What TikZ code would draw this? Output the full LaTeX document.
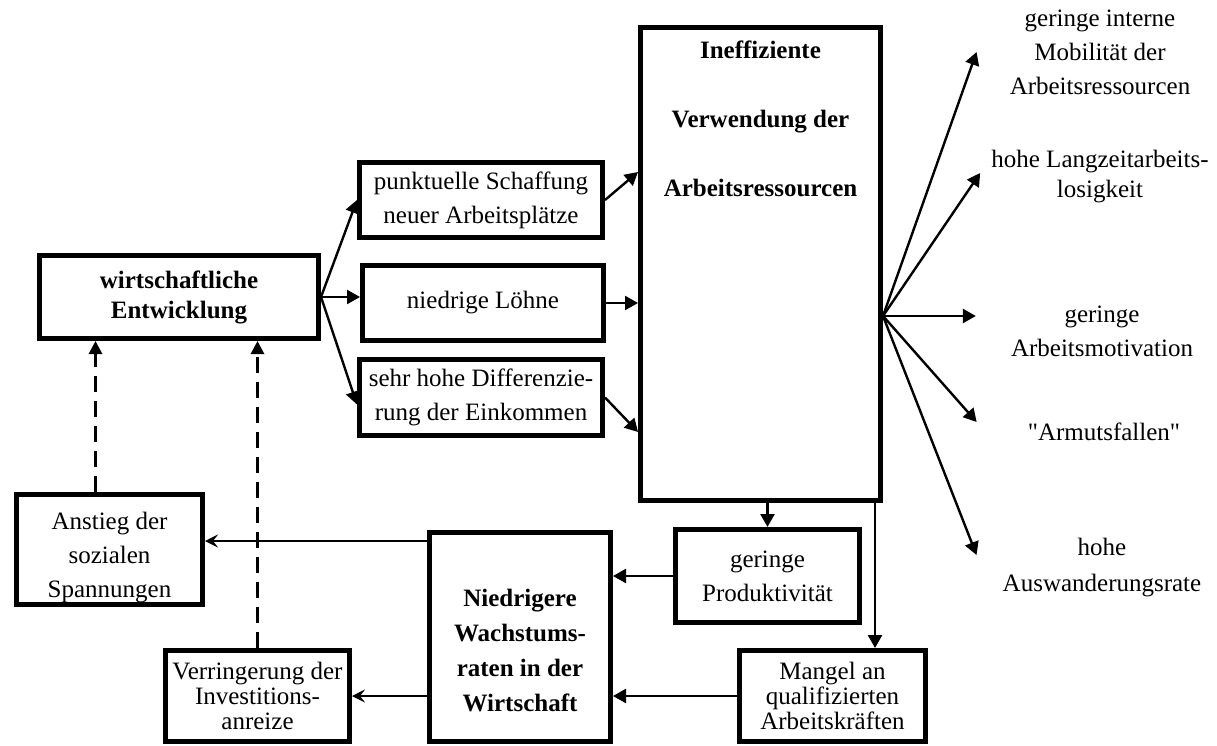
\documentclass[tikz,border=0pt]{standalone}
\usepackage{fontspec}
\setmainfont{Liberation Serif}
\newfontfamily\plainserif{Liberation Serif}
\usetikzlibrary{positioning, arrows.meta}

\begin{document}
\begin{tikzpicture}[x=1pt, y=-1pt, font=\fontsize{25}{34}\selectfont,
	box/.style={draw, line width=5pt, align=center, inner sep=0pt},
	lbl/.style={align=center, inner sep=0pt},
	arr/.style={line width=2.4pt, -{Triangle[length=13pt,width=14pt]}},
	arrb/.style={line width=2.4pt, -{Stealth[length=13pt,width=13pt,inset=5pt]}},
	dasharr/.style={line width=2.8pt, dash pattern=on 16pt off 9pt, -{Triangle[length=13pt,width=13pt]}}]
	\useasboundingbox (0,0) rectangle (1217,746);
	\node[box, minimum width=279pt, minimum height=83pt, font=\fontsize{25}{30}\selectfont\bfseries] (wirt) at (179,297) {wirtschaftliche\\Entwicklung};
	\node[box, minimum width=243pt, minimum height=75pt] (punkt) at (481,200) {punktuelle Schaffung\\neuer Arbeitsplätze};
	\node[box, minimum width=241pt, minimum height=75pt, below=23pt of punkt, xshift=2pt] (loehne) {niedrige Löhne};
	\node[box, minimum width=243pt, minimum height=76pt, below=14pt of loehne, xshift=-2pt] (diff) {sehr hohe Differenzie-\\rung der Einkommen};
	\node[box, minimum width=240pt, minimum height=473pt,
		label={[anchor=north, yshift=-12pt, align=center, font=\fontsize{25}{69}\selectfont\bfseries]north:Ineffiziente\\Verwendung der\\Arbeitsressourcen}] (ineff) at (760.5,264) {};
	\node[lbl] (mob) at (1100,52) {geringe interne\\Mobilität der\\Arbeitsressourcen};
	\node[lbl, font=\fontsize{25}{30}\selectfont] (langz) at (1100,177) {hohe Langzeitarbeits-\\losigkeit};
	\node[lbl] (motiv) at (1102,331) {geringe\\Arbeitsmotivation};
	\node[lbl, font=\fontsize{25}{34}\plainserif] (armut) at (1104,432) {"Armutsfallen"};
	\node[lbl, font=\fontsize{25}{36}\selectfont] (auswand) at (1102,568) {hohe\\Auswanderungsrate};
	\node[box, minimum width=184pt, minimum height=93pt] (prod) at (767.5,576) {geringe\\Produktivität};
	\node[box, minimum width=186pt, minimum height=91pt, font=\fontsize{25}{25}\selectfont] (mangel) at (832.5,696) {Mangel an\\qualifizierten\\Arbeitskräften};
	\node[box, minimum width=181pt, minimum height=209pt, font=\fontsize{25}{35}\selectfont\bfseries] (niedr) at (520,637) {\rule{0pt}{45pt}Niedrigere\\Wachstums-\\raten in der\\Wirtschaft};
	\node[box, minimum width=186pt, minimum height=110pt] (anstieg) at (109.5,549.5) {\rule{0pt}{33pt}Anstieg der\\sozialen\\Spannungen};
	\node[box, minimum width=184pt, minimum height=91pt, font=\fontsize{25}{25}\selectfont] (verring) at (257.5,696) {Verringerung der\\Investitions-\\anreize};
	\draw[arr] (wirt.east) -- (punkt.west);
	\draw[arr] (wirt.east) -- (wirt.east -| loehne.west);
	\draw[arr] (wirt.east) -- ([yshift=-7pt]diff.west);
	\draw[arr] (punkt.east) -- ([yshift=92pt]ineff.west);
	\draw[arr] (loehne.east) -- (loehne.east -| ineff.west);
	\draw[arr] (diff.east) -- ([yshift=-168pt]ineff.west);
	\coordinate (fan) at ([yshift=-52pt]ineff.east);
	\draw[arr] (fan) -- ([xshift=-33pt]mob.west);
	\draw[arr] (fan) -- ([xshift=-11pt, yshift=4pt]langz.west);
	\draw[arr] (fan) -- ([xshift=-35pt, yshift=15pt]motiv.west);
	\draw[arr] (fan) -- ([xshift=-51pt, yshift=10pt]armut.west);
	\draw[arr] (fan) -- ([xshift=-26pt, yshift=13pt]auswand.west);
	\draw[arr] (prod.north |- ineff.south) -- (prod.north);
	\coordinate (drop) at ([xshift=-8pt]ineff.south east);
	\draw[arr] (drop) -- (drop |- mangel.north);
	\draw[arr] (prod.west) -- (prod.west -| niedr.east);
	\draw[arr] (mangel.west) -- (mangel.west -| niedr.east);
	\coordinate (side) at ([yshift=-11pt]niedr.north west);
	\draw[arrb] (side) -- (side -| anstieg.east);
	\draw[arrb] (niedr.west |- verring.east) -- (verring.east);
	\coordinate (up) at ([xshift=-14pt]anstieg.north);
	\draw[dasharr] (up) -- (up |- wirt.south);
	\draw[dasharr] (verring.north) -- (verring.north |- wirt.south);
\end{tikzpicture}
\end{document}
